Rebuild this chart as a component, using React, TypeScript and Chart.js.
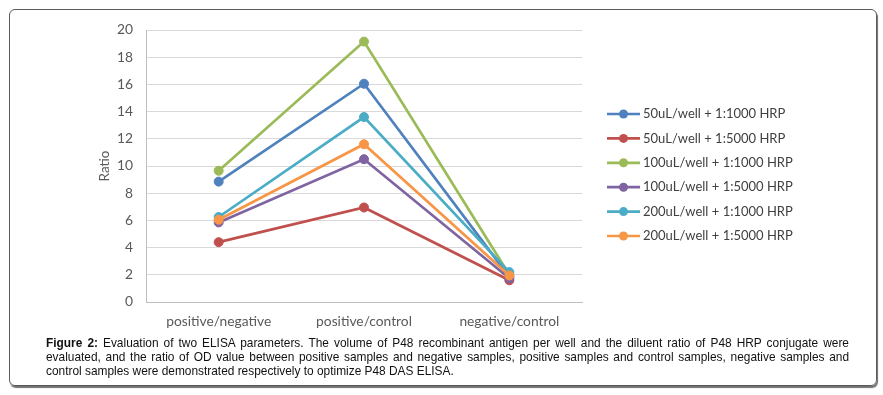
import React, { useEffect, useRef } from 'react';
import { Chart, registerables } from 'chart.js';

Chart.register(...registerables);

const categories = ['positive/negative', 'positive/control', 'negative/control'];

const seriesNames = [
  '50uL/well + 1:1000 HRP',
  '50uL/well + 1:5000 HRP',
  '100uL/well + 1:1000 HRP',
  '100uL/well + 1:5000 HRP',
  '200uL/well + 1:1000 HRP',
  '200uL/well + 1:5000 HRP',
];

const s50_1000 = [8.85, 16.05, 1.85];
const s50_5000 = [4.4, 6.95, 1.6];
const s100_1000 = [9.65, 19.15, 2.0];
const s100_5000 = [5.85, 10.5, 1.75];
const s200_1000 = [6.25, 13.6, 2.2];
const s200_5000 = [6.05, 11.6, 1.95];

const seriesValues = [s50_1000, s50_5000, s100_1000, s100_5000, s200_1000, s200_5000];

const seriesColors = ['#4F81BD', '#C0504D', '#9BBB59', '#8064A2', '#4BACC6', '#F79646'];

const yMin = 0;
const yMax = 20;
const yStep = 2;
const yTitle = 'Ratio';

const captionBold = 'Figure 2:';
const captionLines = [
  ' Evaluation of two ELISA parameters. The volume of P48 recombinant antigen per well and the diluent ratio of P48 HRP conjugate were',
  'evaluated, and the ratio of OD value between positive samples and negative samples, positive samples and control samples, negative samples and',
  'control samples were demonstrated respectively to optimize P48 DAS ELISA.',
];

const FONT = 'Lato, "Open Sans", sans-serif';

const legendPlugin = {
  id: 'sideLegend',
  afterDraw(chart: any) {
    const { ctx, chartArea } = chart;
    const x0 = chartArea.right + 25;
    const lineLen = 33;
    const y0 = 114;
    const gap = 24.4;
    ctx.save();
    ctx.font = `13px ${FONT}`;
    ctx.textBaseline = 'middle';
    ctx.textAlign = 'left';
    chart.data.datasets.forEach((ds: any, i: number) => {
      const y = y0 + i * gap;
      ctx.strokeStyle = ds.borderColor;
      ctx.lineWidth = 2.7;
      ctx.beginPath();
      ctx.moveTo(x0, y);
      ctx.lineTo(x0 + lineLen, y);
      ctx.stroke();
      ctx.fillStyle = ds.backgroundColor;
      ctx.beginPath();
      ctx.arc(x0 + lineLen / 2, y, 4.5, 0, Math.PI * 2);
      ctx.fill();
      ctx.fillStyle = '#404040';
      ctx.fillText(ds.label, x0 + lineLen + 3, y);
    });
    ctx.restore();
  },
};

export default function App() {
  const canvasRef = useRef<HTMLCanvasElement | null>(null);

  useEffect(() => {
    if (!canvasRef.current) return;
    const chart = new Chart(canvasRef.current, {
      type: 'line',
      data: {
        labels: categories,
        datasets: seriesNames.map((name, i) => ({
          label: name,
          data: seriesValues[i],
          borderColor: seriesColors[i],
          backgroundColor: seriesColors[i],
          pointBackgroundColor: seriesColors[i],
          pointBorderColor: seriesColors[i],
          borderWidth: 2.7,
          pointRadius: 4.5,
          pointBorderWidth: 1,
          tension: 0,
          order: seriesNames.length - 1 - i,
        })),
      },
      options: {
        responsive: false,
        animation: false,
        events: [],
        layout: { padding: { left: 97, right: 301, top: 30, bottom: 0 } },
        plugins: {
          legend: { display: false },
          tooltip: { enabled: false },
        },
        scales: {
          x: {
            type: 'category',
            offset: true,
            grid: { display: false, drawTicks: false },
            border: { display: true, color: '#bfbfbf', width: 1 },
            ticks: { color: '#595959', font: { family: FONT, size: 13.8 }, padding: 11 },
            afterFit: (s: any) => {
              s.height = 38;
            },
          },
          y: {
            min: yMin,
            max: yMax,
            ticks: { stepSize: yStep, color: '#595959', font: { family: FONT, size: 13.8 }, padding: 13 },
            grid: { color: '#d9d9d9', drawTicks: false, lineWidth: 1 },
            border: { display: true, color: '#bfbfbf', width: 1 },
            title: {
              display: true,
              text: yTitle,
              color: '#595959',
              font: { family: FONT, size: 13.5 },
              padding: 0,
            },
            afterFit: (s: any) => {
              s.width = 49;
            },
          },
        },
      },
      plugins: [legendPlugin],
    });
    return () => chart.destroy();
  }, []);

  return (
    <div style={{ position: 'fixed', left: 0, top: 0, width: 883, height: 395, background: '#fff', overflow: 'hidden' }}>
      <div
        style={{
          position: 'absolute',
          left: 9,
          top: 9,
          width: 866,
          height: 375,
          border: '1px solid #5a5a5a',
          borderRadius: 6,
          boxShadow: '1px 2px 1px #707070',
        }}
      />
      <canvas ref={canvasRef} width={883} height={340} style={{ position: 'absolute', left: 0, top: 0, width: 883, height: 340 }} />
      <div
        style={{
          position: 'absolute',
          left: 46,
          top: 336,
          width: 803,
          fontFamily: '"Liberation Sans", Arial, sans-serif',
          fontSize: 11.9,
          lineHeight: '14px',
          color: '#111',
        }}
      >
        {captionLines.map((line, i) => (
          <div
            key={i}
            style={{
              textAlign: 'justify',
              textAlignLast: i < captionLines.length - 1 ? 'justify' : 'left',
              whiteSpace: 'normal',
            }}
          >
            {i === 0 ? <b>{captionBold}</b> : null}
            {line}
          </div>
        ))}
      </div>
    </div>
  );
}
